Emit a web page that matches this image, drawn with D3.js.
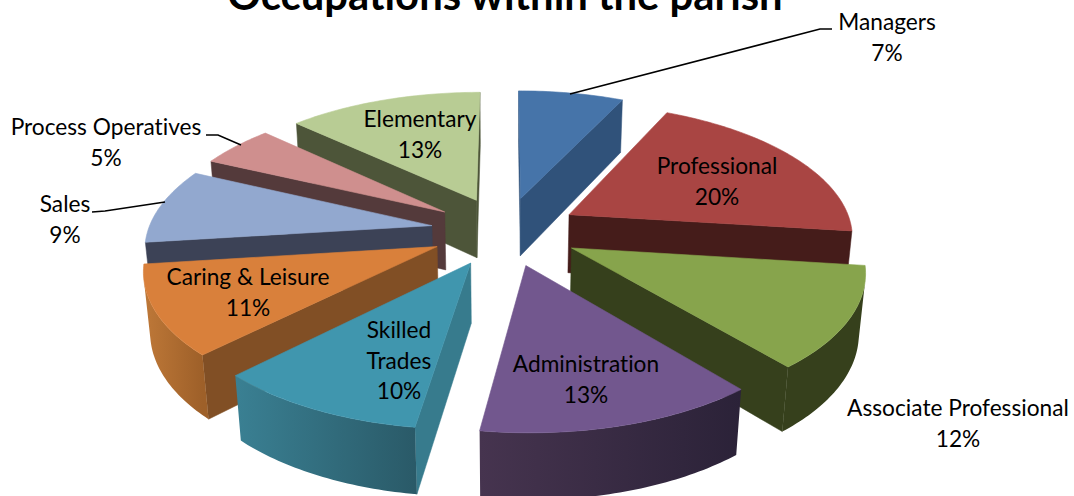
<!DOCTYPE html>
<html><head><meta charset="utf-8">
<script src="https://cdn.jsdelivr.net/npm/d3@7/dist/d3.min.js"></script>
<style>html,body{margin:0;padding:0;background:#fff;overflow:hidden}svg{display:block}text{font-family:Lato,"Open Sans",sans-serif;fill:#000;font-variant-ligatures:none}</style>
</head><body><svg id="c" width="1074" height="496"></svg>
<script>
const categories=["Managers","Professional","Associate Professional","Administration","Skilled Trades","Caring & Leisure","Sales","Process Operatives","Elementary"];
const values=[7,20,12,13.3,10.1,10.6,9,5,13];
const topColors=["#4674A9","#A94543","#87A44C","#72578E","#4096AE","#D9803B","#92A8CF","#CF8F8E","#B8CC94"];
const cutColors=["#30527A","#451C1A","#36401C","#2E233C","#377B8D","#814F25","#3C4256","#543A3B","#4D5539"];
const rimLeft=["#30527A","#451C1A","#36401C","#46344F","#3A8093","#BE7838","#3C4256","#543A3B","#4D5539"];
const rimRight=["#30527A","#451C1A","#36401C","#2B2238","#2A5A68","#9E6029","#3C4256","#543A3B","#4D5539"];
const labelLines=[["Managers","7%"],["Professional","20%"],["Associate Professional","12%"],["Administration","13%"],["Skilled","Trades","10%"],["Caring & Leisure","11%"],["Sales","9%"],["Process Operatives","5%"],["Elementary","13%"]];
const labelAnchors=[[887,22],[717,166],[958,408],[586,364],[399,330],[248,277],[65,204],[106,127],[420,119]];
const leaders=[[[570,94],[820,29],[832,29]],[[206,135],[218,135],[241,145]],[[92,212],[105,211],[165,202]]];
const titleText="Occupations within the parish";

const svg=d3.select("#c"),defs=svg.append("defs");
const view={cx:505,cy:231,k:284,tilt:0.483,a:0.145,explode:0.262,H:0.238};
const sinT=Math.sin(view.tilt),cosT=Math.cos(view.tilt);
const d=cosT/view.a, K=view.k*d;
function project(X,Y,Z){const yy=Y*sinT+Z*cosT,D=d+Y*cosT-Z*sinT;return [view.cx+K*X/D,view.cy-K*yy/D];}
const pie=d3.pie().sort(null).startAngle(0).endAngle(2*Math.PI);
const arcs=pie(values);
const line=d3.line();
const area=pts=>{let s=0;pts.forEach((p,i)=>{const q=pts[(i+1)%pts.length];s+=p[0]*q[1]-q[0]*p[1];});return s/2;};
const poly=pts=>line(pts)+"Z";

const slices=arcs.map((a,i)=>{
  const mid=(a.startAngle+a.endAngle)/2;
  const ox=view.explode*Math.sin(mid),oy=view.explode*Math.cos(mid);
  const n=Math.max(8,Math.round((a.endAngle-a.startAngle)*60));
  const angs=d3.range(n+1).map(j=>a.startAngle+(a.endAngle-a.startAngle)*j/n);
  const rim=Z=>angs.map(t=>project(ox+Math.sin(t),oy+Math.cos(t),Z));
  return {i,mid,apexT:project(ox,oy,0),apexB:project(ox,oy,-view.H),rimT:rim(0),rimB:rim(-view.H)};
}).sort((p,q)=>Math.cos(q.mid)-Math.cos(p.mid));

slices.forEach(s=>{
  const g=svg.append("g");
  const i=s.i,n=s.rimT.length-1;
  const q1=[s.apexT,s.rimT[0],s.rimB[0],s.apexB];
  const q2=[s.rimT[n],s.apexT,s.apexB,s.rimB[n]];
  [q1,q2].forEach(q=>{ if(area(q)<0) g.append("path").attr("d",poly(q)).attr("fill",cutColors[i]).attr("stroke",cutColors[i]).attr("stroke-width",.5);});
  const vis=d3.range(n).filter(j=>area([s.rimT[j],s.rimT[j+1],s.rimB[j+1],s.rimB[j]])<0);
  if(vis.length){
    const lo=vis[0],hi=vis[vis.length-1]+1;
    const top=s.rimT.slice(lo,hi+1),bot=s.rimB.slice(lo,hi+1).reverse();
    const xs=top.map(p=>p[0]);
    const id="w"+i;
    const grad=defs.append("linearGradient").attr("id",id).attr("gradientUnits","userSpaceOnUse")
      .attr("x1",d3.min(xs)).attr("x2",d3.max(xs)).attr("y1",0).attr("y2",0);
    grad.append("stop").attr("offset",0).attr("stop-color",rimLeft[i]);
    grad.append("stop").attr("offset",1).attr("stop-color",rimRight[i]);
    g.append("path").attr("d",poly(top.concat(bot))).attr("fill",`url(#${id})`);
  }
  g.append("path").attr("d",poly([s.apexT].concat(s.rimT))).attr("fill",topColors[i]).attr("stroke",topColors[i]).attr("stroke-width",.6);
});

leaders.forEach(l=>svg.append("path").attr("d",line(l)).attr("fill","none").attr("stroke","#000").attr("stroke-width",1.6));

labelLines.forEach((ls,i)=>{
  const [x,y]=labelAnchors[i];
  ls.forEach((t,j)=>svg.append("text").attr("x",x).attr("y",y+j*30.7).attr("dy","0.35em").attr("text-anchor","middle").attr("font-size",22.7).text(t));
});
svg.append("text").attr("x",505).attr("y",10).attr("text-anchor","middle").attr("font-size",41.8).attr("font-weight",700).text(titleText);
</script></body></html>
